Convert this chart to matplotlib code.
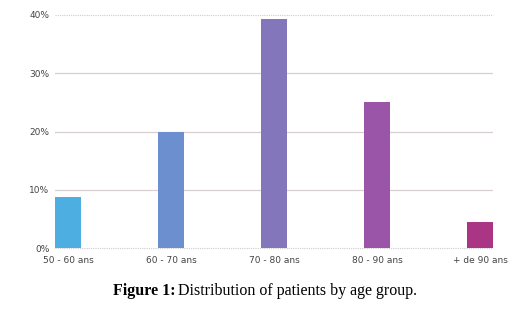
import matplotlib.pyplot as plt
from matplotlib.ticker import FuncFormatter

categories = ['50 - 60 ans', '60 - 70 ans', '70 - 80 ans', '80 - 90 ans', '+ de 90 ans']
percents = [8.7, 20.0, 39.3, 25.0, 4.4]
colors = ['#4daee2', '#6b8fcf', '#8376bb', '#9b55a8', '#ab3585']
yticks = [0, 10, 20, 30, 40]

fig = plt.figure(figsize=(5.17, 3.12), dpi=100)
ax = fig.add_axes([55 / 517, 1 - 248 / 312, 438 / 517, 233 / 312])

x = list(range(len(categories)))
ax.bar(x, percents, width=0.25, color=colors, zorder=3)
ax.set_xlim(-0.125, len(categories) - 1 + 0.125)
ax.set_ylim(0, 40)
ax.set_yticks(yticks)
ax.yaxis.set_major_formatter(FuncFormatter(lambda v, p: '%d%%' % v))
ax.set_xticks(x)
ax.set_xticklabels(categories)

# light grid, dotted at the bottom and top
for v in yticks:
    if v in (0, 40):
        ax.axhline(v, color='#cccccc', lw=0.8, ls=(0, (1, 1)), zorder=1, clip_on=False)
    else:
        ax.axhline(v, color='#d8d0d0', lw=0.9, zorder=1)

for s in ax.spines.values():
    s.set_visible(False)
ax.tick_params(length=0, labelsize=6.5, colors='#444444')
ax.tick_params(axis='y', pad=4)
ax.tick_params(axis='x', pad=6)

cy = 1 - 291 / 312
fig.text(113 / 517, cy, 'Figure 1:', ha='left', va='center',
         fontsize=11.5, family='Liberation Serif', weight='bold')
fig.text(178 / 517, cy, 'Distribution of patients by age group.', ha='left', va='center',
         fontsize=11.5, family='Liberation Serif')

fig.savefig('out.png', dpi=100)
